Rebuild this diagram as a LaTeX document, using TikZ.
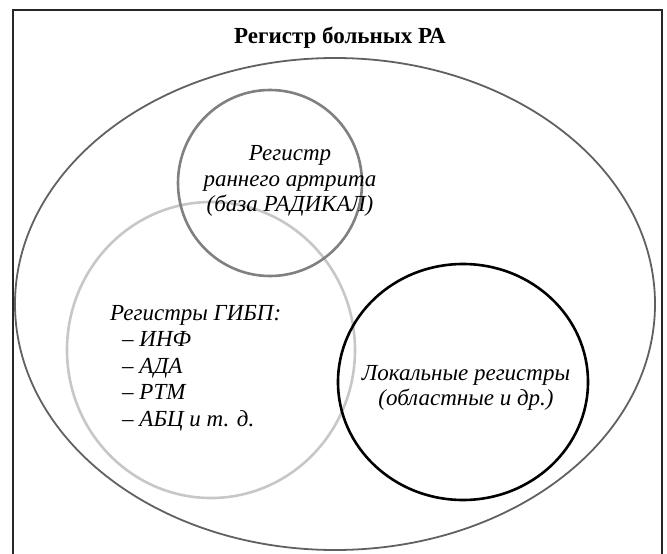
\documentclass[tikz,border=0pt]{standalone}
\usepackage{fontspec}
\setmainfont{Liberation Serif}

\tikzset{
    ring/.style={line width=#1},
    label/.style={font=\itshape\fontsize{23}{25.5}\selectfont, align=center, inner sep=0pt},
    listlabel/.style={font=\itshape\fontsize{23}{26.5}\selectfont, align=left, inner sep=0pt},
}

\begin{document}
\begin{tikzpicture}[x=1pt, y=-1pt]
    \useasboundingbox (0,0) rectangle (667,554);
    % frame, open at the bottom
    \draw[line width=1.2pt, black!85] (13,554) -- (13,10) -- (662,10) -- (662,554);

    \node[font=\bfseries\fontsize{23}{25}\selectfont, inner sep=0pt, anchor=base] (title) at (340,43) {Регистр больных РА};

    % the registers
    \draw[ring=1.8pt, black!62] (335,304) ellipse (320 and 246);
    \draw[ring=2.6pt, black!22] (211,350) ellipse (144 and 148);
    \draw[ring=2.6pt, black!50] (270,183) ellipse (92 and 93);
    \draw[ring=2.6pt, black] (463,382) ellipse (125 and 118);

    \node[label] (early) at (290,181) {Регистр\\раннего артрита\\(база РАДИКАЛ)};
    \node[listlabel, anchor=north west] (gibp) at (110,305) {Регистры ГИБП:\\
        \hspace*{12pt}– ИНФ\\
        \hspace*{12pt}– АДА\\
        \hspace*{12pt}– РТМ\\
        \hspace*{12pt}– АБЦ и т. д.};
    \node[label] (local) at (466,388) {Локальные регистры\\(областные и др.)};
\end{tikzpicture}
\end{document}
